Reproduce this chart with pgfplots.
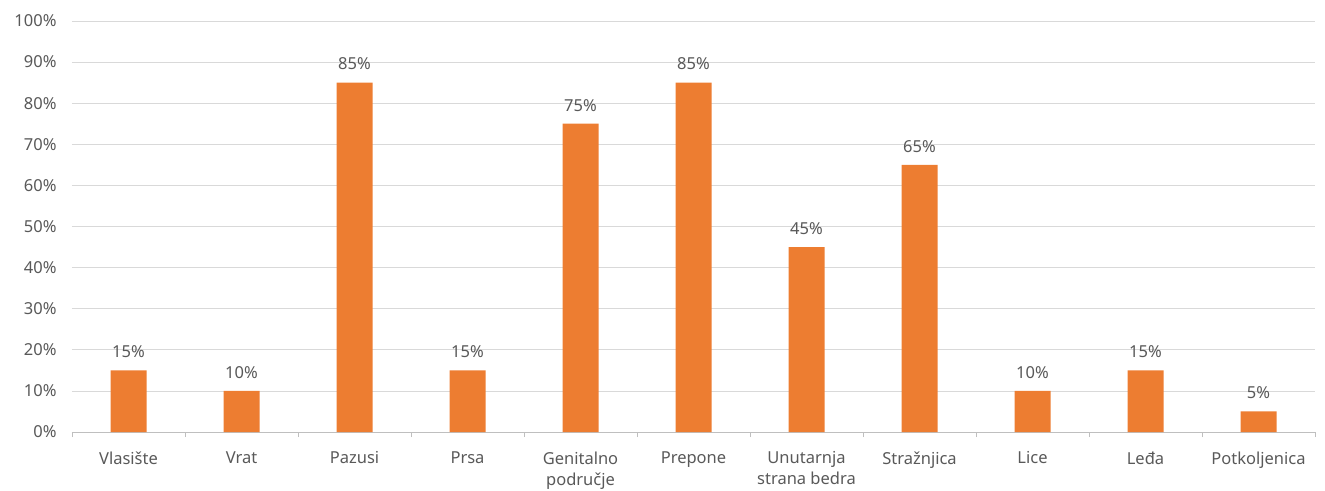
\documentclass[border=0pt]{standalone}
\usepackage{fontspec}
\setmainfont{Noto Sans}
\usepackage{pgfplots}
\pgfplotsset{compat=1.18}
\definecolor{barc}{HTML}{ED7D31}
\definecolor{txt}{HTML}{595959}
\definecolor{gridc}{HTML}{D9D9D9}
\definecolor{axc}{HTML}{BFBFBF}
\begin{document}
\begin{tikzpicture}
\begin{axis}[name=ax,
  scale only axis, width=1243bp, height=411bp,
  xmin=-0.5, xmax=10.5, ymin=0, ymax=100,
  axis line style={draw=none},
  axis x line*=bottom,
  x axis line style={draw=axc, line width=0.8bp},
  ytick={0,10,...,100},
  yticklabel={\pgfmathprintnumber{\tick}\%},
  ymajorgrids, grid style={gridc, line width=0.8bp},
  major tick length=0pt,
  xtick={0,...,10},
  xticklabels={Vlasište,Vrat,Pazusi,Prsa,{Genitalno\\područje},Prepone,{Unutarnja\\strana bedra},Stražnjica,Lice,Leđa,Potkoljenica},
  xticklabel style={align=center, yshift=-16bp, font=\fontsize{16.5bp}{21bp}\selectfont, text=txt},
  yticklabel style={xshift=-12bp, font=\fontsize{16.5bp}{20bp}\selectfont, text=txt},
  /pgf/number format/assume math mode=true,
  extra x ticks={-0.5,0.5,...,10.5},
  extra x tick labels={},
  extra x tick style={grid=none, major tick length=5bp, tick align=outside, tick style={axc, line width=0.8bp}},
  tick style={axc},
  ybar, bar width=36bp,
  nodes near coords={\pgfmathprintnumber{\pgfplotspointmeta}\%},
  nodes near coords style={font=\fontsize{16.5bp}{20bp}\selectfont, text=txt, yshift=9bp},
  clip=false,
]
\addplot[fill=barc, draw=none] coordinates {(0,15) (1,10) (2,85) (3,15) (4,75) (5,85) (6,45) (7,65) (8,10) (9,15) (10,5)};
\end{axis}
\pgfresetboundingbox
\path ([xshift=-72bp,yshift=-58bp]ax.south west) rectangle ([xshift=10bp,yshift=21bp]ax.north east);
\end{tikzpicture}
\end{document}
